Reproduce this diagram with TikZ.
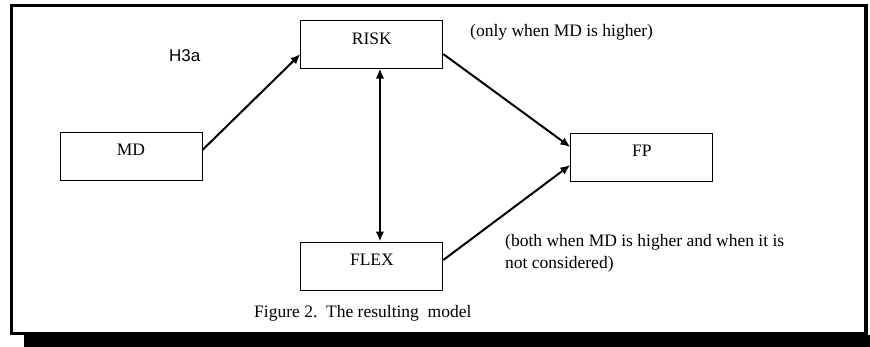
\documentclass[tikz,border=0pt]{standalone}
\usepackage{fontspec}
\setmainfont{Liberation Serif}
\newfontfamily\hthreefont{Liberation Sans}
\usetikzlibrary{positioning,arrows.meta}
\tikzset{modelbox/.style={draw, line width=0.9pt, inner sep=0pt, minimum width=142pt, text height=24pt, text depth=24pt, font=\fontsize{17.5}{21}\selectfont}}
\tikzset{modelarrow/.style={line width=2pt}}
\tikzset{notetext/.style={inner sep=0pt, font=\fontsize{17.5}{22.5}\selectfont}}

\begin{document}
\begin{tikzpicture}[x=1pt, y=1pt, >={Latex[length=10pt,width=8.5pt]}]
\useasboundingbox (0,0) rectangle (870,-347);
\fill (24,-335) rectangle (870,-347);
\draw[line width=3pt] (11.5,-6) rectangle (865.5,-333.5);
\fill (864,-4.5) rectangle (868,-335);
\node[modelbox] (md) at (131,-156) {MD};
\node[modelbox, above right=63pt and 98pt of md] (risk) {RISK};
\node[modelbox, below=173pt of risk] (flex) {FLEX};
\node[modelbox, below right=64pt and 127pt of risk] (fp) {FP};
\draw[modelarrow, ->] ([yshift=6pt]md.east) -- ([yshift=-10pt]risk.west);
\draw[modelarrow, <->] ([xshift=8pt]risk.south) -- ([xshift=8pt]risk.south |- flex.north);
\draw[modelarrow, ->] ([yshift=-10pt]risk.east) -- ([yshift=10pt]fp.west);
\draw[modelarrow, ->] ([yshift=6pt]flex.east) -- ([yshift=-8pt]fp.west);
\node[anchor=base west, inner sep=0pt, font=\hthreefont\fontsize{17}{20}\selectfont] (h3a) at (169,-62) {H3a};
\node[notetext, anchor=base west] (onlynote) at (470,-37) {(only when MD is higher)};
\node[notetext, anchor=north west, align=left] (bothnote) at (505,-234) {(both when MD is higher and when it is\\not considered)};
\node[notetext, anchor=base west] (caption) at (254,-317) {Figure 2.\ \ The resulting\ \ model};
\end{tikzpicture}
\end{document}
